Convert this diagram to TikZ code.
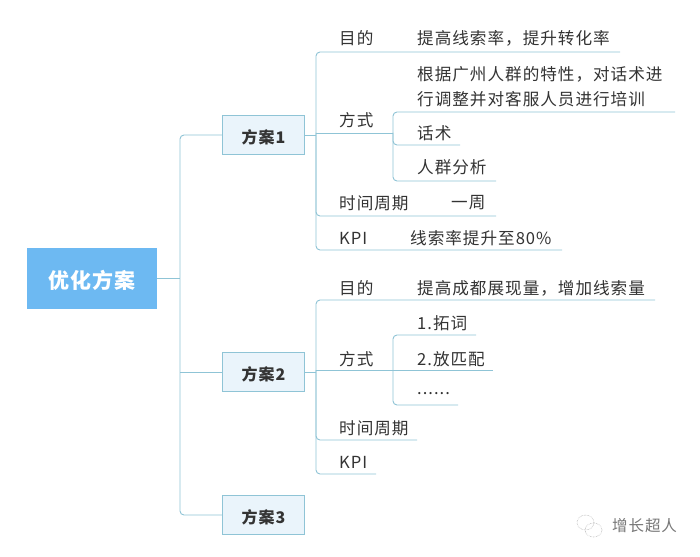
\documentclass[tikz,border=0pt]{standalone}
\usepackage{fontspec}
\setmainfont{Noto Sans CJK SC}[LetterSpace=6]
\definecolor{linkc}{HTML}{8FC4D6}
\definecolor{boxfill}{HTML}{EAF4FB}
\definecolor{rootfill}{HTML}{6DB9F2}
\definecolor{inkc}{HTML}{333333}
\definecolor{markc}{HTML}{777777}
\newcommand{\fwc}{\symbol{"FF0C}}
\tikzset{
  link/.style={draw=linkc,line width=0.9pt,rounded corners=4pt},
  rootbox/.style={fill=rootfill,text=white,minimum width=130pt,minimum height=61pt,inner sep=0pt,text height=20pt,text depth=0pt,font=\fontsize{21}{24}\selectfont\bfseries},
  planbox/.style={fill=boxfill,draw=linkc,line width=0.9pt,text=inkc,minimum width=82pt,minimum height=39.5pt,inner sep=0pt,text height=17pt,text depth=1pt,font=\fontsize{16}{20}\selectfont\bfseries},
  leaf/.style={anchor=west,inner sep=0pt,text=inkc,font=\fontsize{16.6}{25}\selectfont,align=left},
  bubble/.style={draw=markc!70,line width=0.5pt,densely dotted}
}
\begin{document}
\begin{tikzpicture}[x=1pt,y=-1pt]
\useasboundingbox (0,0) rectangle (700,556);
\fill[white] (0,0) rectangle (700,556);
\node[rootbox] (root) at (92,278.5) {优化方案};
\node[planbox] (p1) at (263.5,135) {方案1};
\node[planbox] (p2) at (263.5,372) {方案2};
\node[planbox] (p3) at (263.5,515) {方案3};
% trunk
\coordinate (tj) at (180,278.5);
\draw[link] (root.east) -- (tj);
\draw[link] (p1.west) -| (tj);
\draw[link] (p3.west) -| (tj);
\draw[link] (p2.west) -- (180,372);
% plan 1
\node[leaf] (a1) at (339,38) {目的};
\node[leaf] (a1t) at (417,38) {提高线索率\fwc 提升转化率};
\node[leaf] (a2) at (339,120) {方式};
\node[leaf] (a2t) at (417,86.5) {根据广州人群的特性\fwc 对话术进\\行调整并对客服人员进行培训};
\node[leaf] (a21) at (417,133) {话术};
\node[leaf] (a22) at (417,167) {人群分析};
\node[leaf] (a3) at (339,203) {时间周期};
\node[leaf] (a3t) at (451,203) {一周};
\node[leaf] (a4) at (339,238) {KPI};
\node[leaf] (a4t) at (410,238) {线索率提升至80\%};
\coordinate (s1) at (316,133);
\coordinate (s1b) at (316,135);
\coordinate (e1) at (620,52);
\coordinate (e2) at (393,133);
\coordinate (e3) at (496,216);
\coordinate (e4) at (562,250);
\coordinate (e21) at (675,112);
\coordinate (e22) at (460,145);
\coordinate (e23) at (496,181);
\draw[link] (p1.east) -- (s1b);
\draw[link] (e1) -| (s1);
\draw[link] (s1) -- (e2);
\draw[link] (e3) -| (s1);
\draw[link] (e4) -| (s1);
\draw[link] (e21) -| (e2);
\draw[link] (e22) -| (e2);
\draw[link] (e23) -| (e2);
% plan 2
\node[leaf] (b1) at (339,288) {目的};
\node[leaf] (b1t) at (417,288) {提高成都展现量\fwc 增加线索量};
\node[leaf] (b2) at (339,359) {方式};
\node[leaf] (b21) at (417,323) {1.拓词};
\node[leaf] (b22) at (417,359) {2.放匹配};
\node[leaf] (b23) at (417,394) {......};
\node[leaf] (b3) at (339,428) {时间周期};
\node[leaf] (b4) at (339,462) {KPI};
\coordinate (s2) at (316,370);
\coordinate (s2b) at (316,372);
\coordinate (f1) at (655,300);
\coordinate (f2) at (493,370);
\coordinate (f3) at (417,440);
\coordinate (f4) at (376,474);
\coordinate (g) at (393,370);
\coordinate (f21) at (476,335);
\coordinate (f23) at (458,405);
\draw[link] (p2.east) -- (s2b);
\draw[link] (f1) -| (s2);
\draw[link] (s2) -- (f2);
\draw[link] (f3) -| (s2);
\draw[link] (f4) -| (s2);
\draw[link] (f21) -| (g);
\draw[link] (f23) -| (g);
% watermark
\draw[bubble] (585.5,522.5) ellipse [x radius=8.5pt,y radius=7.5pt];
\draw[bubble] (593.5,530) ellipse [x radius=8.5pt,y radius=7pt];
\node[leaf,text=markc,font=\fontsize{15.5}{18}\selectfont] (wm) at (612,526) {增长超人};
\end{tikzpicture}
\end{document}
